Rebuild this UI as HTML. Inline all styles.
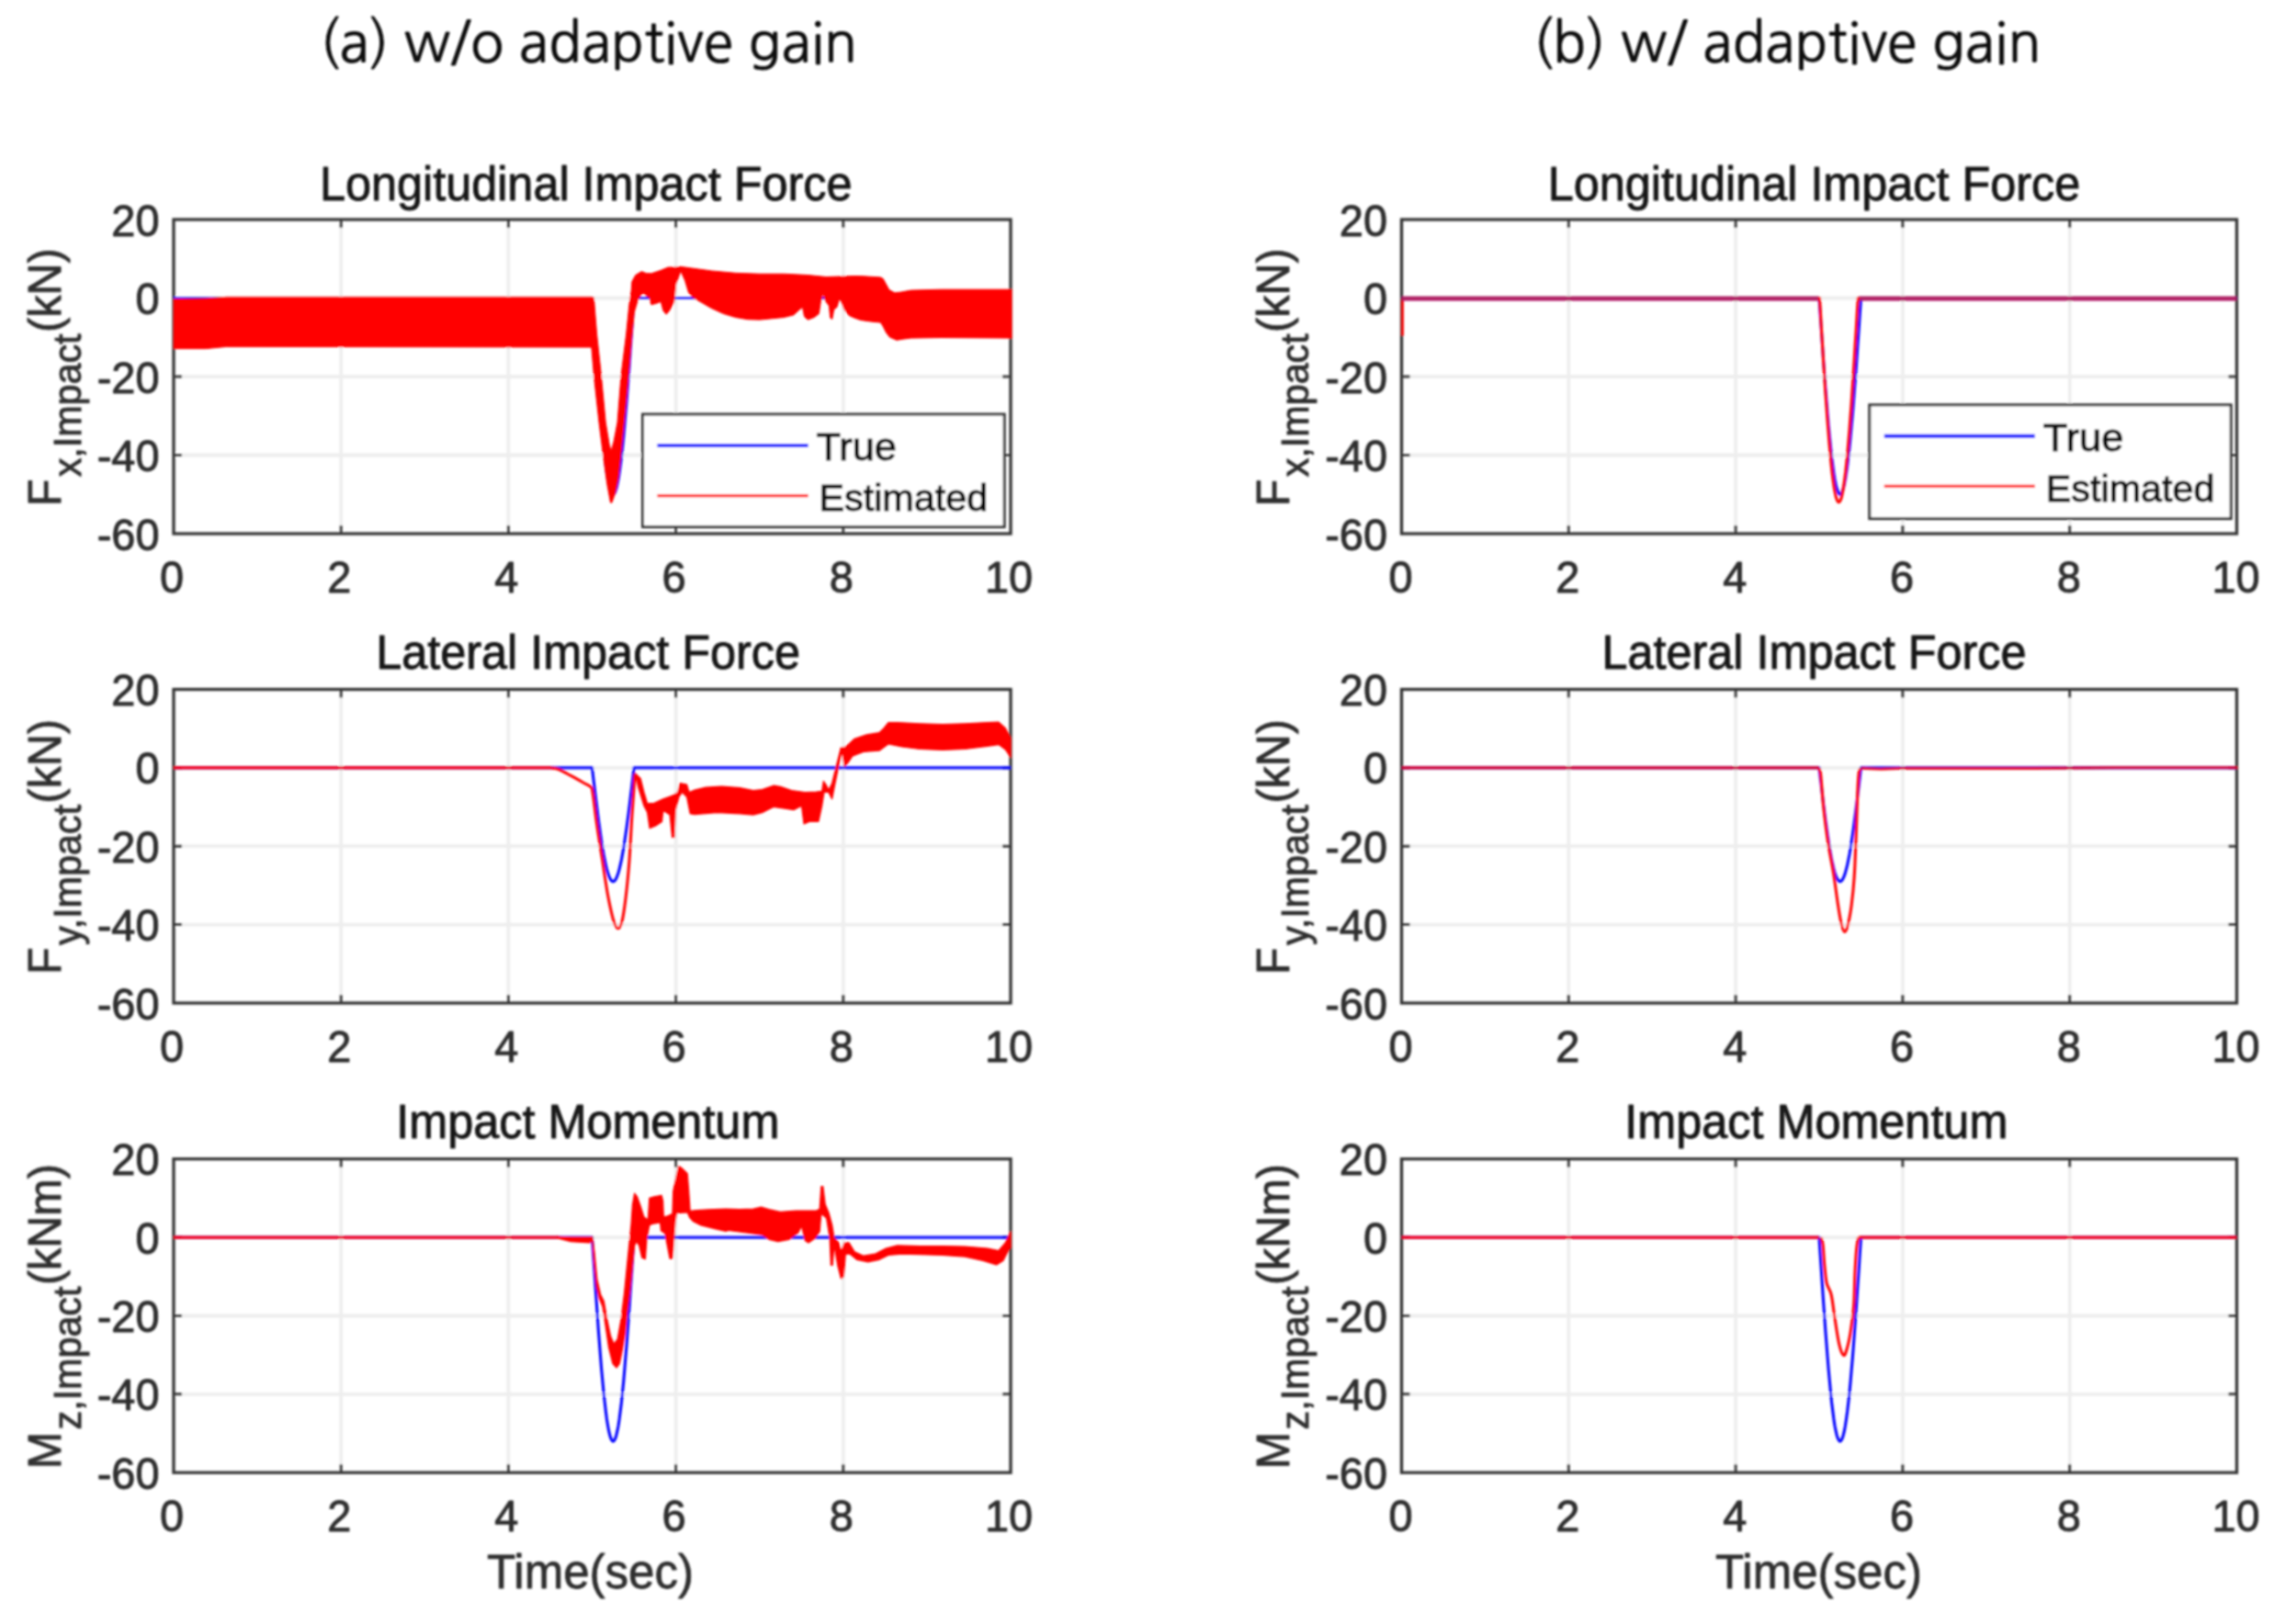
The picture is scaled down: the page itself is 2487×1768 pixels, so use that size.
<!DOCTYPE html>
<html lang="en"><head><meta charset="utf-8"><title>Impact force estimation: w/o vs w/ adaptive gain</title>
<style>html,body{margin:0;padding:0;background:#fff}svg{display:block}text{font-family:"Liberation Sans", Arial, Helvetica, sans-serif;stroke-linejoin:round}</style></head><body>
<svg width="2487" height="1768" viewBox="0 0 2487 1768">
<defs><filter id="bl" x="-2%" y="-2%" width="104%" height="104%"><feGaussianBlur stdDeviation="0.9"/></filter></defs>
<rect width="2487" height="1768" fill="#fff"/>
<g filter="url(#bl)">
<text transform="translate(640.5 66.5) scale(0.9875 1.0001)" font-size="60" text-anchor="middle" fill="#111" stroke="#111" stroke-width="0.9" style="font-family:&quot;NanumGothic&quot;,&quot;Liberation Sans&quot;,sans-serif" id="head0">(a) w/o adaptive gain</text>
<text transform="translate(1945.0 66.5) scale(0.9875 1.0001)" font-size="60" text-anchor="middle" fill="#111" stroke="#111" stroke-width="0.9" style="font-family:&quot;NanumGothic&quot;,&quot;Liberation Sans&quot;,sans-serif" id="head1">(b) w/ adaptive gain</text>
<clipPath id="c00"><rect x="188.7" y="239.0" width="912.8" height="342.0"/></clipPath>
<path d="M371.2 239.0 V581.0 M553.4 239.0 V581.0 M735.6 239.0 V581.0 M917.8 239.0 V581.0 M189.0 324.5 H1100.0 M189.0 410.0 H1100.0 M189.0 495.5 H1100.0" stroke="#eeeeee" stroke-width="3.8" fill="none"/>
<rect x="189.0" y="239.0" width="911.0" height="342.0" fill="none" stroke="#363636" stroke-width="3.3"/>
<path d="M371.2 239.0 v9.0 M371.2 581.0 v-9.0 M553.4 239.0 v9.0 M553.4 581.0 v-9.0 M735.6 239.0 v9.0 M735.6 581.0 v-9.0 M917.8 239.0 v9.0 M917.8 581.0 v-9.0 M189.0 324.5 h9.0 M1100.0 324.5 h-9.0 M189.0 410.0 h9.0 M1100.0 410.0 h-9.0 M189.0 495.5 h9.0 M1100.0 495.5 h-9.0" stroke="#363636" stroke-width="3.0" fill="none"/>
<g clip-path="url(#c00)">
<path d="M189.0 324.5 L644.5 324.5 L644.5 324.5 L645.6 341.3 L646.8 357.9 L647.9 374.4 L649.1 390.6 L650.2 406.3 L651.3 421.5 L652.5 436.2 L653.6 450.1 L654.7 463.3 L655.9 475.6 L657.0 487.0 L658.2 497.4 L659.3 506.8 L660.4 515.0 L661.6 522.0 L662.7 527.8 L663.9 532.3 L665.0 535.6 L666.1 537.6 L667.3 538.2 L668.4 537.6 L669.6 535.6 L670.7 532.3 L671.8 527.8 L673.0 522.0 L674.1 515.0 L675.2 506.8 L676.4 497.4 L677.5 487.0 L678.7 475.6 L679.8 463.3 L680.9 450.1 L682.1 436.2 L683.2 421.5 L684.4 406.3 L685.5 390.6 L686.6 374.4 L687.8 357.9 L688.9 341.3 L690.0 324.5 L1100.0 324.5" fill="none" stroke="#0000ff" stroke-width="3.1" stroke-linejoin="round"/><path d="M188.9 325.7 L224.3 324.9 L246.5 323.3 L644.3 323.3 L646.4 324.0 L649.6 364.0 L654.4 408.8 L659.2 460.0 L663.2 484.0 L665.1 491.2 L668.0 480.8 L672.0 460.0 L676.0 408.8 L681.6 364.0 L684.8 332.0 L687.2 316.0 L687.8 306.8 L691.7 299.5 L698.3 295.6 L703.5 297.6 L708.8 297.8 L719.3 294.3 L727.2 291.0 L735.0 291.0 L740.3 290.3 L750.8 291.7 L774.4 294.9 L800.7 297.3 L826.9 298.2 L853.2 298.2 L879.4 299.5 L899.1 301.5 L930.0 300.5 L936.6 300.6 L958.5 301.9 L961.2 303.5 L963.9 308.4 L967.8 315.6 L973.8 318.8 L980.4 318.1 L991.3 316.1 L1024.1 315.2 L1104.0 315.2 L1104.0 368.1 L1024.1 367.5 L991.3 368.1 L982.5 369.2 L976.0 370.3 L968.3 367.0 L964.5 362.1 L961.2 355.5 L958.5 351.1 L947.5 350.0 L936.6 348.4 L930.0 346.1 L924.1 343.5 L918.8 337.0 L915.5 327.8 L913.6 325.1 L911.0 334.3 L907.7 337.0 L905.7 347.5 L903.7 346.1 L902.4 333.0 L898.5 327.8 L895.9 319.2 L893.2 329.1 L891.3 341.6 L886.0 345.5 L879.4 348.1 L875.5 344.8 L873.5 334.3 L870.3 337.0 L863.7 342.9 L853.2 345.5 L840.1 346.8 L826.9 348.1 L813.8 347.7 L800.7 345.5 L787.5 341.6 L774.4 335.6 L758.7 326.5 L753.4 323.2 L749.5 318.6 L745.5 305.4 L740.9 294.9 L735.7 309.4 L733.7 329.1 L728.5 338.3 L725.2 342.2 L721.9 338.3 L719.3 328.4 L714.0 330.4 L708.8 331.7 L706.8 323.8 L703.5 322.5 L700.9 319.2 L698.3 320.5 L694.3 326.5 L690.4 339.6 L688.0 364.0 L684.0 408.8 L679.2 460.0 L676.0 492.0 L672.8 520.8 L669.6 536.8 L665.9 547.2 L664.5 547.2 L660.8 527.2 L656.0 492.0 L652.0 460.0 L646.4 408.8 L644.0 380.0 L643.7 378.0 L246.5 377.4 L224.3 379.6 L188.9 379.6Z" fill="#ff0000" stroke="#ff0000" stroke-width="1.0" stroke-linejoin="round"/>
</g>
<rect x="699.5" y="451.0" width="393.7" height="122.6" fill="#fff" stroke="#363636" stroke-width="3"/><path d="M715.5 485.0 H879.5" stroke="#0000ff" stroke-width="4.0"/><path d="M715.5 539.6 H879.5" stroke="#ff0000" stroke-width="3.4"/><text x="888.5" y="501.3" font-size="43.3" fill="#0c0c0c" stroke="#0c0c0c" stroke-width="1.1">True</text><text x="891.5" y="555.8" font-size="41.3" fill="#0c0c0c" stroke="#0c0c0c" stroke-width="1.1">Estimated</text>
<text transform="translate(187.0 644.8) scale(0.965 1)" font-size="48.6" text-anchor="middle" fill="#2e2e2e" stroke="#2e2e2e" stroke-width="0.95">0</text>
<text transform="translate(369.2 644.8) scale(0.965 1)" font-size="48.6" text-anchor="middle" fill="#2e2e2e" stroke="#2e2e2e" stroke-width="0.95">2</text>
<text transform="translate(551.4 644.8) scale(0.965 1)" font-size="48.6" text-anchor="middle" fill="#2e2e2e" stroke="#2e2e2e" stroke-width="0.95">4</text>
<text transform="translate(733.6 644.8) scale(0.965 1)" font-size="48.6" text-anchor="middle" fill="#2e2e2e" stroke="#2e2e2e" stroke-width="0.95">6</text>
<text transform="translate(915.8 644.8) scale(0.965 1)" font-size="48.6" text-anchor="middle" fill="#2e2e2e" stroke="#2e2e2e" stroke-width="0.95">8</text>
<text transform="translate(1098.0 644.8) scale(0.965 1)" font-size="48.6" text-anchor="middle" fill="#2e2e2e" stroke="#2e2e2e" stroke-width="0.95">10</text>
<text transform="translate(173.5 256.5) scale(0.965 1)" font-size="48.6" text-anchor="end" fill="#2e2e2e" stroke="#2e2e2e" stroke-width="0.95">20</text>
<text transform="translate(173.5 342.0) scale(0.965 1)" font-size="48.6" text-anchor="end" fill="#2e2e2e" stroke="#2e2e2e" stroke-width="0.95">0</text>
<text transform="translate(173.5 427.5) scale(0.965 1)" font-size="48.6" text-anchor="end" fill="#2e2e2e" stroke="#2e2e2e" stroke-width="0.95">-20</text>
<text transform="translate(173.5 513.0) scale(0.965 1)" font-size="48.6" text-anchor="end" fill="#2e2e2e" stroke="#2e2e2e" stroke-width="0.95">-40</text>
<text transform="translate(173.5 598.5) scale(0.965 1)" font-size="48.6" text-anchor="end" fill="#2e2e2e" stroke="#2e2e2e" stroke-width="0.95">-60</text>
<text transform="translate(637.7 217.7) scale(0.984 1)" font-size="51.2" text-anchor="middle" fill="#151515" stroke="#151515" stroke-width="0.9">Longitudinal Impact Force</text>
<text transform="translate(66.0 410.8) rotate(-90) scale(0.96 1)" font-size="50.5" text-anchor="middle" fill="#2e2e2e" stroke="#2e2e2e" stroke-width="0.9" id="yl00">F<tspan font-size="43" dy="21.7" dx="2.5">x,Impact</tspan><tspan dy="-21.7" dx="1.5">(kN)</tspan></text>
<clipPath id="c01"><rect x="188.7" y="750.5" width="912.8" height="341.5"/></clipPath>
<path d="M371.2 750.5 V1092.0 M553.4 750.5 V1092.0 M735.6 750.5 V1092.0 M917.8 750.5 V1092.0 M189.0 835.9 H1100.0 M189.0 921.2 H1100.0 M189.0 1006.6 H1100.0" stroke="#eeeeee" stroke-width="3.8" fill="none"/>
<rect x="189.0" y="750.5" width="911.0" height="341.5" fill="none" stroke="#363636" stroke-width="3.3"/>
<path d="M371.2 750.5 v9.0 M371.2 1092.0 v-9.0 M553.4 750.5 v9.0 M553.4 1092.0 v-9.0 M735.6 750.5 v9.0 M735.6 1092.0 v-9.0 M917.8 750.5 v9.0 M917.8 1092.0 v-9.0 M189.0 835.9 h9.0 M1100.0 835.9 h-9.0 M189.0 921.2 h9.0 M1100.0 921.2 h-9.0 M189.0 1006.6 h9.0 M1100.0 1006.6 h-9.0" stroke="#363636" stroke-width="3.0" fill="none"/>
<g clip-path="url(#c01)">
<path d="M189.0 835.9 L644.5 835.9 L644.5 835.9 L645.6 845.6 L646.8 855.2 L647.9 864.8 L649.1 874.1 L650.2 883.2 L651.3 892.1 L652.5 900.6 L653.6 908.6 L654.7 916.3 L655.9 923.4 L657.0 930.0 L658.2 936.0 L659.3 941.4 L660.4 946.2 L661.6 950.2 L662.7 953.6 L663.9 956.2 L665.0 958.1 L666.1 959.3 L667.3 959.7 L668.4 959.3 L669.6 958.1 L670.7 956.2 L671.8 953.6 L673.0 950.2 L674.1 946.2 L675.2 941.4 L676.4 936.0 L677.5 930.0 L678.7 923.4 L679.8 916.3 L680.9 908.6 L682.1 900.6 L683.2 892.1 L684.4 883.2 L685.5 874.1 L686.6 864.8 L687.8 855.2 L688.9 845.6 L690.0 835.9 L1100.0 835.9" fill="none" stroke="#0000ff" stroke-width="3.1" stroke-linejoin="round"/><path d="M189.0 835.9 L599.0 835.9" fill="none" stroke="#ff0000" stroke-width="3.1" stroke-linejoin="round"/><path d="M599.0 835.9 C599.2 835.9 599.4 835.9 600.4 836.1 C601.5 836.2 603.7 836.4 605.3 836.8 C607.0 837.2 608.2 837.6 610.2 838.5 C612.3 839.5 615.1 841.1 617.6 842.5 C620.0 843.8 622.1 844.8 625.0 846.4 C627.8 848.0 631.8 850.3 634.8 852.0 C637.7 853.7 641.1 854.9 642.8 856.7 C644.6 858.4 643.9 855.8 645.0 862.5 C646.2 869.2 647.7 884.6 649.5 896.9 C651.2 909.1 653.5 923.0 655.6 936.1 C657.6 949.2 659.7 964.3 661.7 975.3 C663.8 986.3 666.0 996.3 667.8 1002.3 C669.7 1008.2 671.2 1010.8 672.7 1010.8 C674.3 1010.8 675.7 1008.2 677.2 1002.3 C678.6 996.3 680.0 986.3 681.3 975.3 C682.6 964.3 683.9 950.8 685.0 936.1 C686.1 921.4 686.9 902.6 687.9 887.1 C689.0 871.5 690.6 850.3 691.1 842.9" fill="none" stroke="#ff0000" stroke-width="3.1" stroke-opacity="1.00" stroke-linejoin="round"/><path d="M691.1 841.7 L697.3 847.8 L700.9 862.5 L704.6 874.8 L712.0 874.3 L721.8 869.9 L731.6 866.2 L737.7 862.5 L740.1 852.7 L747.5 854.0 L750.0 862.5 L756.1 860.1 L768.3 857.2 L785.5 856.2 L805.1 857.6 L819.8 860.6 L829.6 859.6 L841.9 855.2 L849.2 856.4 L861.5 860.6 L876.2 862.5 L888.4 862.1 L894.6 861.3 L896.3 850.3 L899.5 855.2 L901.9 860.1 L905.6 852.7 L910.5 833.1 L915.4 813.5 L919.1 813.5 L922.7 811.1 L930.1 804.2 L942.4 800.0 L957.1 797.6 L962.0 792.7 L966.9 786.6 L976.7 786.6 L1001.2 787.8 L1025.7 788.5 L1050.2 787.8 L1074.7 786.6 L1087.0 786.1 L1094.3 792.7 L1100.0 803.7 L1100.0 824.6 L1094.3 816.0 L1087.0 810.6 L1074.7 812.3 L1050.2 815.5 L1025.7 816.5 L1001.2 815.5 L981.6 813.0 L966.9 809.9 L962.0 813.5 L957.1 817.2 L939.9 818.4 L927.6 823.3 L922.7 830.7 L919.1 834.4 L916.6 818.4 L912.9 833.1 L908.0 857.6 L905.6 869.9 L901.9 862.5 L897.0 862.5 L894.6 877.3 L890.9 894.4 L881.1 894.4 L875.0 896.9 L872.5 877.3 L863.9 881.7 L854.1 880.2 L841.9 878.5 L829.6 884.6 L819.8 887.1 L805.1 885.8 L780.6 884.6 L756.1 886.6 L751.2 885.8 L747.5 867.5 L742.6 862.5 L738.9 867.5 L735.2 882.2 L734.0 911.6 L731.6 911.6 L729.1 887.1 L721.8 882.2 L720.5 894.4 L713.2 899.3 L707.1 901.8 L704.6 884.6 L700.9 877.3 L694.8 857.6 L691.1 841.7Z" fill="#ff0000" stroke="#ff0000" stroke-width="1.2" stroke-linejoin="round"/>
</g>
<text transform="translate(187.0 1155.8) scale(0.965 1)" font-size="48.6" text-anchor="middle" fill="#2e2e2e" stroke="#2e2e2e" stroke-width="0.95">0</text>
<text transform="translate(369.2 1155.8) scale(0.965 1)" font-size="48.6" text-anchor="middle" fill="#2e2e2e" stroke="#2e2e2e" stroke-width="0.95">2</text>
<text transform="translate(551.4 1155.8) scale(0.965 1)" font-size="48.6" text-anchor="middle" fill="#2e2e2e" stroke="#2e2e2e" stroke-width="0.95">4</text>
<text transform="translate(733.6 1155.8) scale(0.965 1)" font-size="48.6" text-anchor="middle" fill="#2e2e2e" stroke="#2e2e2e" stroke-width="0.95">6</text>
<text transform="translate(915.8 1155.8) scale(0.965 1)" font-size="48.6" text-anchor="middle" fill="#2e2e2e" stroke="#2e2e2e" stroke-width="0.95">8</text>
<text transform="translate(1098.0 1155.8) scale(0.965 1)" font-size="48.6" text-anchor="middle" fill="#2e2e2e" stroke="#2e2e2e" stroke-width="0.95">10</text>
<text transform="translate(173.5 768.0) scale(0.965 1)" font-size="48.6" text-anchor="end" fill="#2e2e2e" stroke="#2e2e2e" stroke-width="0.95">20</text>
<text transform="translate(173.5 853.4) scale(0.965 1)" font-size="48.6" text-anchor="end" fill="#2e2e2e" stroke="#2e2e2e" stroke-width="0.95">0</text>
<text transform="translate(173.5 938.8) scale(0.965 1)" font-size="48.6" text-anchor="end" fill="#2e2e2e" stroke="#2e2e2e" stroke-width="0.95">-20</text>
<text transform="translate(173.5 1024.1) scale(0.965 1)" font-size="48.6" text-anchor="end" fill="#2e2e2e" stroke="#2e2e2e" stroke-width="0.95">-40</text>
<text transform="translate(173.5 1109.5) scale(0.965 1)" font-size="48.6" text-anchor="end" fill="#2e2e2e" stroke="#2e2e2e" stroke-width="0.95">-60</text>
<text transform="translate(640.1 728.0) scale(0.984 1)" font-size="51.2" text-anchor="middle" fill="#151515" stroke="#151515" stroke-width="0.9">Lateral Impact Force</text>
<text transform="translate(66.0 922.0) rotate(-90) scale(0.96 1)" font-size="50.5" text-anchor="middle" fill="#2e2e2e" stroke="#2e2e2e" stroke-width="0.9" id="yl01">F<tspan font-size="43" dy="21.7" dx="2.5">y,Impact</tspan><tspan dy="-21.7" dx="1.5">(kN)</tspan></text>
<clipPath id="c02"><rect x="188.7" y="1261.7" width="912.8" height="341.5"/></clipPath>
<path d="M371.2 1261.7 V1603.2 M553.4 1261.7 V1603.2 M735.6 1261.7 V1603.2 M917.8 1261.7 V1603.2 M189.0 1347.1 H1100.0 M189.0 1432.5 H1100.0 M189.0 1517.8 H1100.0" stroke="#eeeeee" stroke-width="3.8" fill="none"/>
<rect x="189.0" y="1261.7" width="911.0" height="341.5" fill="none" stroke="#363636" stroke-width="3.3"/>
<path d="M371.2 1261.7 v9.0 M371.2 1603.2 v-9.0 M553.4 1261.7 v9.0 M553.4 1603.2 v-9.0 M735.6 1261.7 v9.0 M735.6 1603.2 v-9.0 M917.8 1261.7 v9.0 M917.8 1603.2 v-9.0 M189.0 1347.1 h9.0 M1100.0 1347.1 h-9.0 M189.0 1432.5 h9.0 M1100.0 1432.5 h-9.0 M189.0 1517.8 h9.0 M1100.0 1517.8 h-9.0" stroke="#363636" stroke-width="3.0" fill="none"/>
<g clip-path="url(#c02)">
<path d="M189.0 1347.1 L644.5 1347.1 L644.5 1347.1 L645.6 1364.5 L646.8 1381.8 L647.9 1398.9 L649.1 1415.7 L650.2 1432.0 L651.3 1447.8 L652.5 1463.1 L653.6 1477.5 L654.7 1491.2 L655.9 1504.0 L657.0 1515.9 L658.2 1526.7 L659.3 1536.3 L660.4 1544.9 L661.6 1552.2 L662.7 1558.2 L663.9 1562.9 L665.0 1566.3 L666.1 1568.4 L667.3 1569.1 L668.4 1568.4 L669.6 1566.3 L670.7 1562.9 L671.8 1558.2 L673.0 1552.2 L674.1 1544.9 L675.2 1536.3 L676.4 1526.7 L677.5 1515.9 L678.7 1504.0 L679.8 1491.2 L680.9 1477.5 L682.1 1463.1 L683.2 1447.8 L684.4 1432.0 L685.5 1415.7 L686.6 1398.9 L687.8 1381.8 L688.9 1364.5 L690.0 1347.1 L1100.0 1347.1" fill="none" stroke="#0000ff" stroke-width="3.1" stroke-linejoin="round"/><path d="M189.0 1347.1 L608.1 1347.1" fill="none" stroke="#ff0000" stroke-width="3.1" stroke-linejoin="round"/><path d="M606.6 1346.3 L621.3 1346.8 L642.1 1346.8 L644.8 1346.4 L647.0 1363.4 L649.9 1393.0 L653.6 1409.2 L657.3 1416.6 L661.0 1437.3 L664.7 1455.0 L668.1 1463.1 L672.1 1458.0 L675.8 1437.3 L679.5 1407.7 L682.4 1378.2 L685.4 1348.6 L686.9 1333.9 L688.4 1311.7 L690.6 1299.1 L693.5 1302.8 L697.2 1313.2 L700.9 1325.0 L705.3 1328.0 L706.8 1304.3 L712.0 1302.8 L720.1 1301.4 L721.6 1307.3 L722.3 1325.0 L727.5 1323.5 L731.9 1321.3 L732.7 1296.9 L736.4 1279.2 L738.6 1269.6 L742.3 1271.8 L748.2 1277.7 L749.7 1296.9 L751.1 1318.4 L758.5 1317.6 L770.3 1316.9 L790.0 1316.1 L805.1 1316.7 L819.8 1316.2 L828.4 1314.2 L837.0 1316.7 L849.2 1319.4 L866.4 1318.1 L888.4 1318.1 L892.1 1316.2 L893.8 1291.7 L895.8 1291.7 L898.2 1311.3 L901.9 1319.9 L905.6 1333.3 L908.0 1348.0 L912.9 1352.9 L915.4 1362.7 L919.1 1352.9 L924.0 1352.9 L930.1 1362.7 L939.9 1367.2 L952.2 1365.2 L964.4 1359.1 L976.7 1355.9 L1001.2 1356.6 L1025.7 1356.6 L1050.2 1357.1 L1074.7 1359.1 L1087.0 1361.5 L1094.3 1352.9 L1100.0 1340.7 L1100.0 1357.8 L1098.0 1360.3 L1091.9 1372.5 L1084.5 1377.0 L1069.8 1372.5 L1050.2 1368.1 L1025.7 1366.4 L1001.2 1365.7 L981.6 1365.2 L966.9 1366.4 L957.1 1371.3 L944.8 1373.8 L932.5 1371.3 L925.2 1365.2 L920.3 1365.2 L918.3 1389.7 L915.4 1392.2 L911.7 1377.5 L908.0 1355.4 L906.1 1377.5 L904.4 1377.5 L903.1 1348.0 L899.5 1326.0 L893.8 1321.1 L892.1 1340.7 L887.2 1348.0 L879.9 1352.9 L876.2 1350.5 L872.5 1334.6 L868.8 1341.9 L859.0 1349.3 L846.8 1351.7 L837.0 1349.3 L829.6 1344.4 L817.4 1342.6 L792.8 1339.5 L790.0 1340.5 L777.7 1337.6 L763.0 1333.9 L754.1 1329.4 L750.4 1325.0 L748.2 1319.8 L736.4 1320.6 L734.9 1330.9 L733.4 1351.6 L731.9 1370.1 L729.0 1370.1 L726.0 1354.5 L723.8 1342.7 L719.4 1339.8 L718.6 1330.9 L709.8 1332.4 L706.8 1333.9 L703.9 1348.6 L702.4 1370.8 L698.7 1369.3 L695.7 1356.0 L692.8 1351.6 L690.6 1356.0 L688.4 1378.2 L685.4 1407.7 L682.4 1429.9 L680.2 1452.1 L677.3 1469.8 L674.3 1484.6 L671.1 1489.0 L666.9 1484.6 L662.5 1466.8 L658.8 1441.7 L655.9 1422.5 L652.2 1413.6 L649.2 1400.3 L646.3 1370.8 L644.8 1350.1 L642.1 1352.9 L621.3 1351.7 L606.6 1348.0Z" fill="#ff0000" stroke="#ff0000" stroke-width="1.2" stroke-linejoin="round"/>
</g>
<text transform="translate(187.0 1667.0) scale(0.965 1)" font-size="48.6" text-anchor="middle" fill="#2e2e2e" stroke="#2e2e2e" stroke-width="0.95">0</text>
<text transform="translate(369.2 1667.0) scale(0.965 1)" font-size="48.6" text-anchor="middle" fill="#2e2e2e" stroke="#2e2e2e" stroke-width="0.95">2</text>
<text transform="translate(551.4 1667.0) scale(0.965 1)" font-size="48.6" text-anchor="middle" fill="#2e2e2e" stroke="#2e2e2e" stroke-width="0.95">4</text>
<text transform="translate(733.6 1667.0) scale(0.965 1)" font-size="48.6" text-anchor="middle" fill="#2e2e2e" stroke="#2e2e2e" stroke-width="0.95">6</text>
<text transform="translate(915.8 1667.0) scale(0.965 1)" font-size="48.6" text-anchor="middle" fill="#2e2e2e" stroke="#2e2e2e" stroke-width="0.95">8</text>
<text transform="translate(1098.0 1667.0) scale(0.965 1)" font-size="48.6" text-anchor="middle" fill="#2e2e2e" stroke="#2e2e2e" stroke-width="0.95">10</text>
<text transform="translate(173.5 1279.2) scale(0.965 1)" font-size="48.6" text-anchor="end" fill="#2e2e2e" stroke="#2e2e2e" stroke-width="0.95">20</text>
<text transform="translate(173.5 1364.6) scale(0.965 1)" font-size="48.6" text-anchor="end" fill="#2e2e2e" stroke="#2e2e2e" stroke-width="0.95">0</text>
<text transform="translate(173.5 1450.0) scale(0.965 1)" font-size="48.6" text-anchor="end" fill="#2e2e2e" stroke="#2e2e2e" stroke-width="0.95">-20</text>
<text transform="translate(173.5 1535.3) scale(0.965 1)" font-size="48.6" text-anchor="end" fill="#2e2e2e" stroke="#2e2e2e" stroke-width="0.95">-40</text>
<text transform="translate(173.5 1620.7) scale(0.965 1)" font-size="48.6" text-anchor="end" fill="#2e2e2e" stroke="#2e2e2e" stroke-width="0.95">-60</text>
<text transform="translate(639.8 1238.8) scale(0.984 1)" font-size="51.2" text-anchor="middle" fill="#151515" stroke="#151515" stroke-width="0.9">Impact Momentum</text>
<text transform="translate(66.0 1433.2) rotate(-90) scale(0.96 1)" font-size="50.5" text-anchor="middle" fill="#2e2e2e" stroke="#2e2e2e" stroke-width="0.9" id="yl02">M<tspan font-size="43" dy="21.7" dx="2.5">z,Impact</tspan><tspan dy="-21.7" dx="1.5">(kNm)</tspan></text>
<text x="642.5" y="1728.5" font-size="51" text-anchor="middle" fill="#2e2e2e" stroke="#2e2e2e" stroke-width="0.8">Time(sec)</text>
<clipPath id="c10"><rect x="1525.2" y="239.0" width="910.8" height="342.0"/></clipPath>
<path d="M1707.3 239.0 V581.0 M1889.1 239.0 V581.0 M2070.9 239.0 V581.0 M2252.7 239.0 V581.0 M1525.5 324.5 H2434.5 M1525.5 410.0 H2434.5 M1525.5 495.5 H2434.5" stroke="#eeeeee" stroke-width="3.8" fill="none"/>
<rect x="1525.5" y="239.0" width="909.0" height="342.0" fill="none" stroke="#363636" stroke-width="3.3"/>
<path d="M1707.3 239.0 v9.0 M1707.3 581.0 v-9.0 M1889.1 239.0 v9.0 M1889.1 581.0 v-9.0 M2070.9 239.0 v9.0 M2070.9 581.0 v-9.0 M2252.7 239.0 v9.0 M2252.7 581.0 v-9.0 M1525.5 324.5 h9.0 M2434.5 324.5 h-9.0 M1525.5 410.0 h9.0 M2434.5 410.0 h-9.0 M1525.5 495.5 h9.0 M2434.5 495.5 h-9.0" stroke="#363636" stroke-width="3.0" fill="none"/>
<g clip-path="url(#c10)">
<path d="M1525.5 324.5 L1980.0 324.5 L1980.0 324.5 L1981.1 341.3 L1982.3 357.9 L1983.4 374.4 L1984.5 390.6 L1985.7 406.3 L1986.8 421.5 L1988.0 436.2 L1989.1 450.1 L1990.2 463.3 L1991.4 475.6 L1992.5 487.0 L1993.6 497.4 L1994.8 506.8 L1995.9 515.0 L1997.0 522.0 L1998.2 527.8 L1999.3 532.3 L2000.5 535.6 L2001.6 537.6 L2002.7 538.2 L2003.9 537.6 L2005.0 535.6 L2006.1 532.3 L2007.3 527.8 L2008.4 522.0 L2009.5 515.0 L2010.7 506.8 L2011.8 497.4 L2013.0 487.0 L2014.1 475.6 L2015.2 463.3 L2016.4 450.1 L2017.5 436.2 L2018.6 421.5 L2019.8 406.3 L2020.9 390.6 L2022.0 374.4 L2023.2 357.9 L2024.3 341.3 L2025.5 324.5 L2434.5 324.5" fill="none" stroke="#0000ff" stroke-width="3.1" stroke-linejoin="round"/><path d="M1526.3 365.5 L1526.3 324.5" fill="none" stroke="#ff0000" stroke-width="3.1" stroke-linejoin="round"/><path d="M1525.5 325.0 L1980.0 325.0" fill="none" stroke="#b01a64" stroke-width="4.8"/><path d="M2022.7 325.0 L2434.5 325.0" fill="none" stroke="#b01a64" stroke-width="4.8"/><path d="M1979.1 324.5 L1980.5 324.5 L1981.5 341.9 L1982.5 359.3 L1983.6 376.4 L1984.6 393.2 L1985.7 409.6 L1986.7 425.4 L1987.8 440.7 L1988.8 455.2 L1989.9 468.9 L1990.9 481.7 L1992.0 493.5 L1993.0 504.3 L1994.0 514.0 L1995.1 522.6 L1996.1 529.9 L1997.2 535.9 L1998.2 540.7 L1999.3 544.1 L2000.3 546.1 L2001.4 546.8 L2002.4 546.1 L2003.5 544.1 L2004.5 540.7 L2005.5 535.9 L2006.6 529.9 L2007.6 522.6 L2008.7 514.0 L2009.7 504.3 L2010.8 493.5 L2011.8 481.7 L2012.9 468.9 L2013.9 455.2 L2015.0 440.7 L2016.0 425.4 L2017.0 409.6 L2018.1 393.2 L2019.1 376.4 L2020.2 359.3 L2021.2 341.9 L2022.3 324.5 L2023.6 324.5" fill="none" stroke="#ff0000" stroke-width="3.1" stroke-linejoin="round"/>
</g>
<rect x="2034.8" y="440.8" width="393.4" height="123.8" fill="#fff" stroke="#363636" stroke-width="3"/><path d="M2050.8 474.8 H2214.8" stroke="#0000ff" stroke-width="4.0"/><path d="M2050.8 529.4 H2214.8" stroke="#ff0000" stroke-width="3.4"/><text x="2223.8" y="491.1" font-size="43.3" fill="#0c0c0c" stroke="#0c0c0c" stroke-width="1.1">True</text><text x="2226.8" y="545.6" font-size="41.3" fill="#0c0c0c" stroke="#0c0c0c" stroke-width="1.1">Estimated</text>
<text transform="translate(1524.6 644.8) scale(0.965 1)" font-size="48.6" text-anchor="middle" fill="#2e2e2e" stroke="#2e2e2e" stroke-width="0.95">0</text>
<text transform="translate(1706.4 644.8) scale(0.965 1)" font-size="48.6" text-anchor="middle" fill="#2e2e2e" stroke="#2e2e2e" stroke-width="0.95">2</text>
<text transform="translate(1888.2 644.8) scale(0.965 1)" font-size="48.6" text-anchor="middle" fill="#2e2e2e" stroke="#2e2e2e" stroke-width="0.95">4</text>
<text transform="translate(2070.0 644.8) scale(0.965 1)" font-size="48.6" text-anchor="middle" fill="#2e2e2e" stroke="#2e2e2e" stroke-width="0.95">6</text>
<text transform="translate(2251.8 644.8) scale(0.965 1)" font-size="48.6" text-anchor="middle" fill="#2e2e2e" stroke="#2e2e2e" stroke-width="0.95">8</text>
<text transform="translate(2433.6 644.8) scale(0.965 1)" font-size="48.6" text-anchor="middle" fill="#2e2e2e" stroke="#2e2e2e" stroke-width="0.95">10</text>
<text transform="translate(1510.0 256.5) scale(0.965 1)" font-size="48.6" text-anchor="end" fill="#2e2e2e" stroke="#2e2e2e" stroke-width="0.95">20</text>
<text transform="translate(1510.0 342.0) scale(0.965 1)" font-size="48.6" text-anchor="end" fill="#2e2e2e" stroke="#2e2e2e" stroke-width="0.95">0</text>
<text transform="translate(1510.0 427.5) scale(0.965 1)" font-size="48.6" text-anchor="end" fill="#2e2e2e" stroke="#2e2e2e" stroke-width="0.95">-20</text>
<text transform="translate(1510.0 513.0) scale(0.965 1)" font-size="48.6" text-anchor="end" fill="#2e2e2e" stroke="#2e2e2e" stroke-width="0.95">-40</text>
<text transform="translate(1510.0 598.5) scale(0.965 1)" font-size="48.6" text-anchor="end" fill="#2e2e2e" stroke="#2e2e2e" stroke-width="0.95">-60</text>
<text transform="translate(1974.5 217.7) scale(0.984 1)" font-size="51.2" text-anchor="middle" fill="#151515" stroke="#151515" stroke-width="0.9">Longitudinal Impact Force</text>
<text transform="translate(1402.5 410.8) rotate(-90) scale(0.96 1)" font-size="50.5" text-anchor="middle" fill="#2e2e2e" stroke="#2e2e2e" stroke-width="0.9" id="yl10">F<tspan font-size="43" dy="21.7" dx="2.5">x,Impact</tspan><tspan dy="-21.7" dx="1.5">(kN)</tspan></text>
<clipPath id="c11"><rect x="1525.2" y="750.5" width="910.8" height="341.5"/></clipPath>
<path d="M1707.3 750.5 V1092.0 M1889.1 750.5 V1092.0 M2070.9 750.5 V1092.0 M2252.7 750.5 V1092.0 M1525.5 835.9 H2434.5 M1525.5 921.2 H2434.5 M1525.5 1006.6 H2434.5" stroke="#eeeeee" stroke-width="3.8" fill="none"/>
<rect x="1525.5" y="750.5" width="909.0" height="341.5" fill="none" stroke="#363636" stroke-width="3.3"/>
<path d="M1707.3 750.5 v9.0 M1707.3 1092.0 v-9.0 M1889.1 750.5 v9.0 M1889.1 1092.0 v-9.0 M2070.9 750.5 v9.0 M2070.9 1092.0 v-9.0 M2252.7 750.5 v9.0 M2252.7 1092.0 v-9.0 M1525.5 835.9 h9.0 M2434.5 835.9 h-9.0 M1525.5 921.2 h9.0 M2434.5 921.2 h-9.0 M1525.5 1006.6 h9.0 M2434.5 1006.6 h-9.0" stroke="#363636" stroke-width="3.0" fill="none"/>
<g clip-path="url(#c11)">
<path d="M1525.5 835.9 L1980.0 835.9 L1980.0 835.9 L1981.1 845.6 L1982.3 855.2 L1983.4 864.8 L1984.5 874.1 L1985.7 883.2 L1986.8 892.1 L1988.0 900.6 L1989.1 908.6 L1990.2 916.3 L1991.4 923.4 L1992.5 930.0 L1993.6 936.0 L1994.8 941.4 L1995.9 946.2 L1997.0 950.2 L1998.2 953.6 L1999.3 956.2 L2000.5 958.1 L2001.6 959.3 L2002.7 959.7 L2003.9 959.3 L2005.0 958.1 L2006.1 956.2 L2007.3 953.6 L2008.4 950.2 L2009.5 946.2 L2010.7 941.4 L2011.8 936.0 L2013.0 930.0 L2014.1 923.4 L2015.2 916.3 L2016.4 908.6 L2017.5 900.6 L2018.6 892.1 L2019.8 883.2 L2020.9 874.1 L2022.0 864.8 L2023.2 855.2 L2024.3 845.6 L2025.5 835.9 L2434.5 835.9" fill="none" stroke="#0000ff" stroke-width="3.1" stroke-linejoin="round"/><path d="M1525.5 835.9 L1980.0 835.9" fill="none" stroke="#ff0000" stroke-width="3.1" stroke-opacity="0.85"/><path d="M1979.7 836.1 C1980.0 837.2 1980.8 836.1 1981.6 842.9 C1982.4 849.8 1983.3 865.0 1984.6 877.3 C1985.9 889.5 1987.6 904.2 1989.5 916.5 C1991.3 928.7 1993.8 939.3 1995.6 950.8 C1997.4 962.2 1999.1 975.9 2000.5 985.1 C2001.9 994.3 2002.9 1001.0 2004.2 1005.9 C2005.4 1010.8 2006.6 1014.5 2007.8 1014.5 C2009.1 1014.5 2010.3 1010.8 2011.5 1005.9 C2012.7 1001.0 2014.1 993.5 2015.2 985.1 C2016.3 976.7 2017.3 967.9 2018.1 955.7 C2019.0 943.4 2019.5 927.1 2020.1 911.6 C2020.7 896.0 2021.3 874.4 2021.8 862.5 C2022.3 850.7 2022.7 844.8 2023.3 840.5 C2023.9 836.2 2025.1 837.4 2025.5 836.8" fill="none" stroke="#ff0000" stroke-width="3.1" stroke-opacity="1.00" stroke-linejoin="round"/><path d="M2025.5 836.3 L2047.1 837.2 L2071.6 836.3 L2213.7 836.4 L2302.0 835.8 L2435.5 835.7" fill="none" stroke="#ff0000" stroke-width="3.1" stroke-opacity="0.85"/>
</g>
<text transform="translate(1524.6 1155.8) scale(0.965 1)" font-size="48.6" text-anchor="middle" fill="#2e2e2e" stroke="#2e2e2e" stroke-width="0.95">0</text>
<text transform="translate(1706.4 1155.8) scale(0.965 1)" font-size="48.6" text-anchor="middle" fill="#2e2e2e" stroke="#2e2e2e" stroke-width="0.95">2</text>
<text transform="translate(1888.2 1155.8) scale(0.965 1)" font-size="48.6" text-anchor="middle" fill="#2e2e2e" stroke="#2e2e2e" stroke-width="0.95">4</text>
<text transform="translate(2070.0 1155.8) scale(0.965 1)" font-size="48.6" text-anchor="middle" fill="#2e2e2e" stroke="#2e2e2e" stroke-width="0.95">6</text>
<text transform="translate(2251.8 1155.8) scale(0.965 1)" font-size="48.6" text-anchor="middle" fill="#2e2e2e" stroke="#2e2e2e" stroke-width="0.95">8</text>
<text transform="translate(2433.6 1155.8) scale(0.965 1)" font-size="48.6" text-anchor="middle" fill="#2e2e2e" stroke="#2e2e2e" stroke-width="0.95">10</text>
<text transform="translate(1510.0 768.0) scale(0.965 1)" font-size="48.6" text-anchor="end" fill="#2e2e2e" stroke="#2e2e2e" stroke-width="0.95">20</text>
<text transform="translate(1510.0 853.4) scale(0.965 1)" font-size="48.6" text-anchor="end" fill="#2e2e2e" stroke="#2e2e2e" stroke-width="0.95">0</text>
<text transform="translate(1510.0 938.8) scale(0.965 1)" font-size="48.6" text-anchor="end" fill="#2e2e2e" stroke="#2e2e2e" stroke-width="0.95">-20</text>
<text transform="translate(1510.0 1024.1) scale(0.965 1)" font-size="48.6" text-anchor="end" fill="#2e2e2e" stroke="#2e2e2e" stroke-width="0.95">-40</text>
<text transform="translate(1510.0 1109.5) scale(0.965 1)" font-size="48.6" text-anchor="end" fill="#2e2e2e" stroke="#2e2e2e" stroke-width="0.95">-60</text>
<text transform="translate(1974.5 728.0) scale(0.984 1)" font-size="51.2" text-anchor="middle" fill="#151515" stroke="#151515" stroke-width="0.9">Lateral Impact Force</text>
<text transform="translate(1402.5 922.0) rotate(-90) scale(0.96 1)" font-size="50.5" text-anchor="middle" fill="#2e2e2e" stroke="#2e2e2e" stroke-width="0.9" id="yl11">F<tspan font-size="43" dy="21.7" dx="2.5">y,Impact</tspan><tspan dy="-21.7" dx="1.5">(kN)</tspan></text>
<clipPath id="c12"><rect x="1525.2" y="1261.7" width="910.8" height="341.5"/></clipPath>
<path d="M1707.3 1261.7 V1603.2 M1889.1 1261.7 V1603.2 M2070.9 1261.7 V1603.2 M2252.7 1261.7 V1603.2 M1525.5 1347.1 H2434.5 M1525.5 1432.5 H2434.5 M1525.5 1517.8 H2434.5" stroke="#eeeeee" stroke-width="3.8" fill="none"/>
<rect x="1525.5" y="1261.7" width="909.0" height="341.5" fill="none" stroke="#363636" stroke-width="3.3"/>
<path d="M1707.3 1261.7 v9.0 M1707.3 1603.2 v-9.0 M1889.1 1261.7 v9.0 M1889.1 1603.2 v-9.0 M2070.9 1261.7 v9.0 M2070.9 1603.2 v-9.0 M2252.7 1261.7 v9.0 M2252.7 1603.2 v-9.0 M1525.5 1347.1 h9.0 M2434.5 1347.1 h-9.0 M1525.5 1432.5 h9.0 M2434.5 1432.5 h-9.0 M1525.5 1517.8 h9.0 M2434.5 1517.8 h-9.0" stroke="#363636" stroke-width="3.0" fill="none"/>
<g clip-path="url(#c12)">
<path d="M1525.5 1347.1 L1980.0 1347.1 L1980.0 1347.1 L1981.1 1364.5 L1982.3 1381.8 L1983.4 1398.9 L1984.5 1415.7 L1985.7 1432.0 L1986.8 1447.8 L1988.0 1463.1 L1989.1 1477.5 L1990.2 1491.2 L1991.4 1504.0 L1992.5 1515.9 L1993.6 1526.7 L1994.8 1536.3 L1995.9 1544.9 L1997.0 1552.2 L1998.2 1558.2 L1999.3 1562.9 L2000.5 1566.3 L2001.6 1568.4 L2002.7 1569.1 L2003.9 1568.4 L2005.0 1566.3 L2006.1 1562.9 L2007.3 1558.2 L2008.4 1552.2 L2009.5 1544.9 L2010.7 1536.3 L2011.8 1526.7 L2013.0 1515.9 L2014.1 1504.0 L2015.2 1491.2 L2016.4 1477.5 L2017.5 1463.1 L2018.6 1447.8 L2019.8 1432.0 L2020.9 1415.7 L2022.0 1398.9 L2023.2 1381.8 L2024.3 1364.5 L2025.5 1347.1 L2434.5 1347.1" fill="none" stroke="#0000ff" stroke-width="3.1" stroke-linejoin="round"/><path d="M1525.5 1347.1 L1980.0 1347.1" fill="none" stroke="#ff0000" stroke-width="3.1" stroke-linejoin="round"/><path d="M1982.1 1347.1 C1982.4 1348.5 1983.5 1350.3 1984.1 1355.4 C1984.7 1360.5 1985.1 1370.5 1985.8 1377.5 C1986.5 1384.4 1987.0 1391.7 1988.2 1397.1 C1989.5 1402.4 1991.7 1403.2 1993.1 1409.3 C1994.6 1415.4 1995.4 1424.8 1996.8 1433.8 C1998.2 1442.8 2000.1 1456.3 2001.7 1463.2 C2003.3 1470.2 2005.2 1474.7 2006.6 1475.5 C2008.0 1476.3 2009.1 1472.2 2010.3 1468.1 C2011.5 1464.1 2012.7 1458.7 2014.0 1451.0 C2015.2 1443.2 2016.8 1432.2 2017.6 1421.6 C2018.5 1410.9 2018.4 1397.5 2018.9 1387.3 C2019.4 1377.0 2020.0 1367.0 2020.6 1360.3 C2021.2 1353.6 2022.2 1349.3 2022.5 1347.1" fill="none" stroke="#ff0000" stroke-width="3.1" stroke-opacity="1.00" stroke-linejoin="round"/><path d="M2022.5 1347.1 L2434.5 1347.1" fill="none" stroke="#ff0000" stroke-width="3.1" stroke-linejoin="round"/>
</g>
<text transform="translate(1524.6 1667.0) scale(0.965 1)" font-size="48.6" text-anchor="middle" fill="#2e2e2e" stroke="#2e2e2e" stroke-width="0.95">0</text>
<text transform="translate(1706.4 1667.0) scale(0.965 1)" font-size="48.6" text-anchor="middle" fill="#2e2e2e" stroke="#2e2e2e" stroke-width="0.95">2</text>
<text transform="translate(1888.2 1667.0) scale(0.965 1)" font-size="48.6" text-anchor="middle" fill="#2e2e2e" stroke="#2e2e2e" stroke-width="0.95">4</text>
<text transform="translate(2070.0 1667.0) scale(0.965 1)" font-size="48.6" text-anchor="middle" fill="#2e2e2e" stroke="#2e2e2e" stroke-width="0.95">6</text>
<text transform="translate(2251.8 1667.0) scale(0.965 1)" font-size="48.6" text-anchor="middle" fill="#2e2e2e" stroke="#2e2e2e" stroke-width="0.95">8</text>
<text transform="translate(2433.6 1667.0) scale(0.965 1)" font-size="48.6" text-anchor="middle" fill="#2e2e2e" stroke="#2e2e2e" stroke-width="0.95">10</text>
<text transform="translate(1510.0 1279.2) scale(0.965 1)" font-size="48.6" text-anchor="end" fill="#2e2e2e" stroke="#2e2e2e" stroke-width="0.95">20</text>
<text transform="translate(1510.0 1364.6) scale(0.965 1)" font-size="48.6" text-anchor="end" fill="#2e2e2e" stroke="#2e2e2e" stroke-width="0.95">0</text>
<text transform="translate(1510.0 1450.0) scale(0.965 1)" font-size="48.6" text-anchor="end" fill="#2e2e2e" stroke="#2e2e2e" stroke-width="0.95">-20</text>
<text transform="translate(1510.0 1535.3) scale(0.965 1)" font-size="48.6" text-anchor="end" fill="#2e2e2e" stroke="#2e2e2e" stroke-width="0.95">-40</text>
<text transform="translate(1510.0 1620.7) scale(0.965 1)" font-size="48.6" text-anchor="end" fill="#2e2e2e" stroke="#2e2e2e" stroke-width="0.95">-60</text>
<text transform="translate(1976.8 1238.8) scale(0.984 1)" font-size="51.2" text-anchor="middle" fill="#151515" stroke="#151515" stroke-width="0.9">Impact Momentum</text>
<text transform="translate(1402.5 1433.2) rotate(-90) scale(0.96 1)" font-size="50.5" text-anchor="middle" fill="#2e2e2e" stroke="#2e2e2e" stroke-width="0.9" id="yl12">M<tspan font-size="43" dy="21.7" dx="2.5">z,Impact</tspan><tspan dy="-21.7" dx="1.5">(kNm)</tspan></text>
<text x="1979.5" y="1728.5" font-size="51" text-anchor="middle" fill="#2e2e2e" stroke="#2e2e2e" stroke-width="0.8">Time(sec)</text>
</g>
</svg></body></html>
